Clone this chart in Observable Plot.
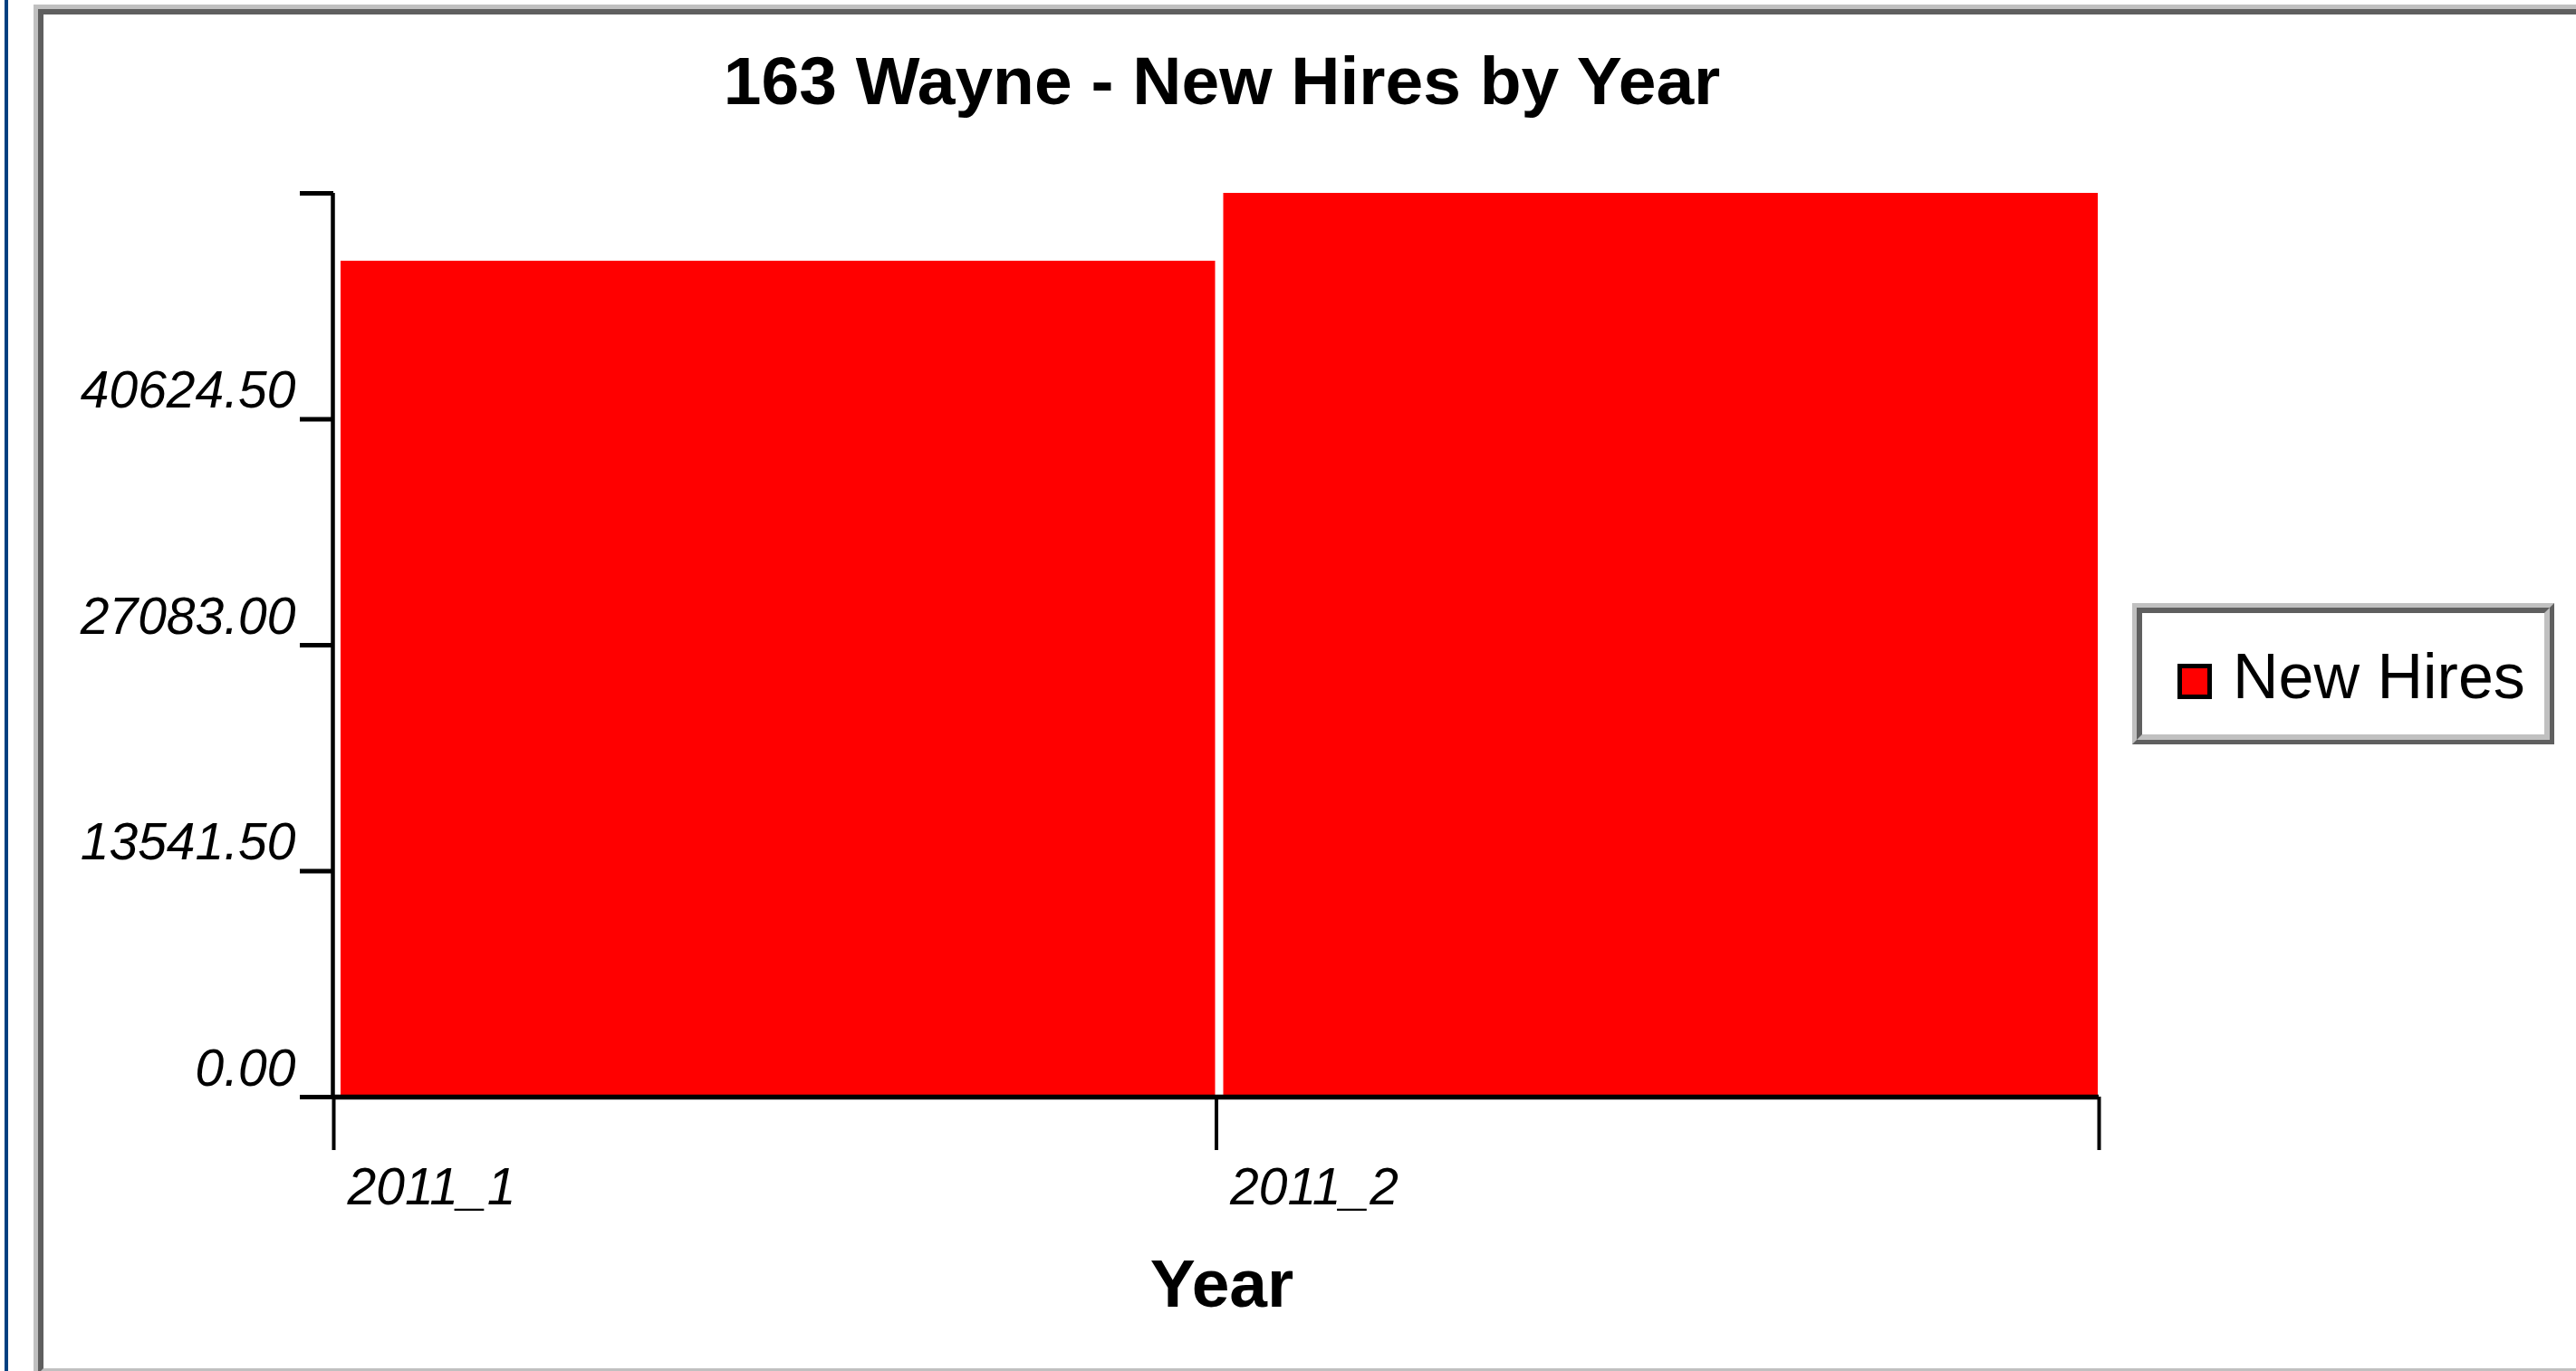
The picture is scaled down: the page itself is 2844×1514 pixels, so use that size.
<!DOCTYPE html>
<html>
<head>
<meta charset="utf-8">
<script src="https://cdn.jsdelivr.net/npm/d3@7"></script>
<script src="https://cdn.jsdelivr.net/npm/@observablehq/plot@0.6"></script>
<style>
html, body { margin: 0; padding: 0; background: #fff; width: 2844px; height: 1514px; overflow: hidden;
  font-family: Arial, "Liberation Sans", sans-serif; }
#blue { position: absolute; left: 5px; top: 0; width: 4px; height: 1514px; background: #004080; }
#frame { position: absolute; left: 37px; top: 5px; width: 2900px; height: 1517px; box-sizing: border-box;
  border: 5px solid; border-color: #c0c0c0 #5f5f5f #5f5f5f #c0c0c0; }
#frame-inner { width: 100%; height: 100%; box-sizing: border-box;
  border: 6px solid; border-color: #5f5f5f #c0c0c0 #c0c0c0 #5f5f5f; }
#title { position: absolute; left: 0; width: 2698px; top: 52px; text-align: center; font-size: 75px;
  font-weight: bold; line-height: 1; color: #000; white-space: nowrap; }
#plot { position: absolute; left: 0; top: 140px; width: 2340px; height: 1374px; }
#legend { position: absolute; left: 2354px; top: 666px; width: 466px; height: 156px; box-sizing: border-box;
  border: 5px solid; border-color: #c0c0c0 #5f5f5f #5f5f5f #c0c0c0; background: #fff; }
#legend-inner { position: relative; width: 100%; height: 100%; box-sizing: border-box;
  border: 6px solid; border-color: #5f5f5f #c0c0c0 #c0c0c0 #5f5f5f; }
#swatch { position: absolute; left: 39px; top: 56px; width: 38px; height: 39px; box-sizing: border-box;
  border: 5px solid #000; background: #ff0000; }
#legend-label { position: absolute; left: 100px; top: 35px; font-size: 70px; line-height: 1; color: #000; white-space: nowrap; }
</style>
</head>
<body>
<div id="blue"></div>
<div id="frame"><div id="frame-inner"></div></div>
<div id="title"></div>
<div id="plot"></div>
<div id="legend"><div id="legend-inner"><span id="swatch"></span><span id="legend-label"></span></div></div>
<script>
const titleText = "163 Wayne - New Hires by Year";
const xLabel = "Year";
const seriesName = "New Hires";
const years = ["2011_1", "2011_2"];
const newHires = [50100, 54166];
const yTicks = [0, 13541.5, 27083, 40624.5, 54166];
const yTickLabels = ["0.00", "13541.50", "27083.00", "40624.50", ""];
const xTicks = [0, 1, 2];
const barColor = "#ff0000";

document.getElementById("title").textContent = titleText;
document.getElementById("legend-label").textContent = seriesName;
document.getElementById("swatch").style.background = barColor;

const data = years.map((y, i) => ({year: y, i, value: newHires[i]}));

const chart = Plot.plot({
  width: 2340,
  height: 1374,
  marginLeft: 368,
  marginRight: 23,
  marginTop: 73,
  marginBottom: 303,
  x: {type: "linear", domain: [0, years.length], axis: null},
  y: {domain: [0, d3.max(yTicks)], axis: null},
  style: {background: "transparent", overflow: "visible", fontFamily: "Arial, 'Liberation Sans', sans-serif", color: "#000"},
  marks: [
    Plot.rectY(data, {x1: "i", x2: d => d.i + 1, y: "value", fill: barColor, insetLeft: 8, insetRight: 1}),
    Plot.ruleY([0], {stroke: "#000", strokeWidth: 5.5}),
    Plot.ruleX([0], {stroke: "#000", strokeWidth: 4.5, dx: -1}),
    Plot.axisY(yTicks, {anchor: "left", tickSize: 37, stroke: "#000", strokeWidth: 5, fill: "none", tickFormat: () => "", label: null}),
    Plot.axisY(yTicks, {anchor: "left", tickSize: 0, tickPadding: 42, dy: -31,
      tickFormat: d => yTickLabels[yTicks.indexOf(d)], fontSize: 57, fontStyle: "italic", fill: "#000", label: null}),
    Plot.axisX(xTicks, {anchor: "bottom", tickSize: 59, stroke: "#000", strokeWidth: 4, fill: "none", tickFormat: () => "", label: null}),
    Plot.axisX(xTicks, {anchor: "bottom", tickSize: 0, tickPadding: 78, dx: 15, textAnchor: "start",
      tickFormat: i => years[i] ?? "", fontSize: 57, fontStyle: "italic", fill: "#000", label: null}),
    Plot.text([xLabel], {frameAnchor: "bottom", text: d => d, dy: 231, dx: 6, fontSize: 75, fontWeight: "bold", fill: "#000"})
  ]
});
document.getElementById("plot").appendChild(chart);
</script>
</body>
</html>
